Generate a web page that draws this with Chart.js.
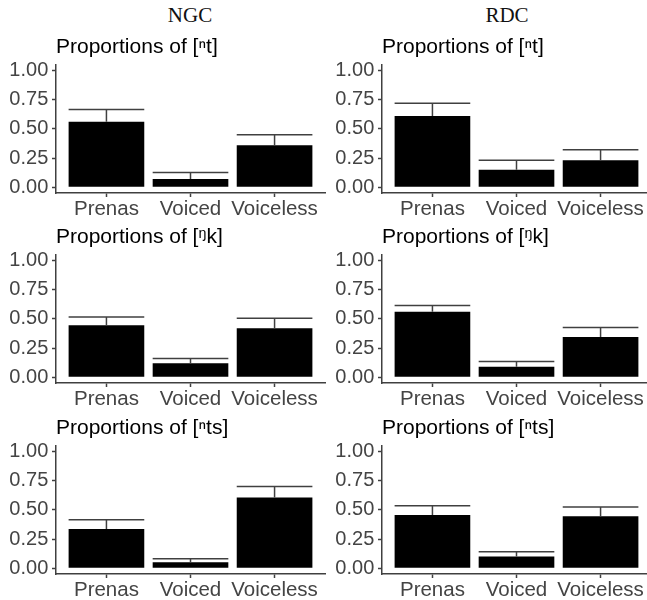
<!DOCTYPE html>
<html>
<head>
<meta charset="utf-8">
<script src="https://cdn.jsdelivr.net/npm/chart.js@4.4.1/dist/chart.umd.min.js"></script>
<style>
  html, body { margin: 0; padding: 0; background: #fff; }
  body { width: 647px; height: 600px; position: relative; overflow: hidden; }
  .hdr {
    position: absolute; top: 5px; width: 120px; margin-left: -60px;
    text-align: center; font: 21px/21px "Liberation Serif", "Times New Roman", serif; color: #111;
  }
  canvas { position: absolute; }
</style>
</head>
<body>
<div class="hdr" style="left:190px">NGC</div>
<div class="hdr" style="left:507px">RDC</div>
<canvas id="p0" width="330" height="225" style="left:0px;top:0px"></canvas>
<canvas id="p1" width="330" height="225" style="left:326px;top:0px"></canvas>
<canvas id="p2" width="330" height="225" style="left:0px;top:190px"></canvas>
<canvas id="p3" width="330" height="225" style="left:326px;top:190px"></canvas>
<canvas id="p4" width="330" height="225" style="left:0px;top:381px"></canvas>
<canvas id="p5" width="330" height="225" style="left:326px;top:381px"></canvas>
<script>
// Categories and axis ticks
const categories = ['Prenas', 'Voiced', 'Voiceless'];
const yTicks = [0, 0.25, 0.5, 0.75, 1];

// Mean proportions and upper error limits, per dialect group and segment
const ngcNt = [0.56, 0.07, 0.36];
const ngcNtUpper = [0.665, 0.125, 0.45];
const rdcNt = [0.61, 0.15, 0.23];
const rdcNtUpper = [0.72, 0.23, 0.32];

const ngcNk = [0.445, 0.12, 0.42];
const ngcNkUpper = [0.515, 0.16, 0.505];
const rdcNk = [0.56, 0.09, 0.345];
const rdcNkUpper = [0.615, 0.135, 0.425];

const ngcNts = [0.335, 0.05, 0.605];
const ngcNtsUpper = [0.415, 0.08, 0.70];
const rdcNts = [0.455, 0.10, 0.445];
const rdcNtsUpper = [0.535, 0.14, 0.525];

const panelTitles = [
  'Proportions of [ⁿt]', 'Proportions of [ⁿt]',
  'Proportions of [ᵑk]', 'Proportions of [ᵑk]',
  'Proportions of [ⁿts]', 'Proportions of [ⁿts]'
];
const panelValues = [ngcNt, rdcNt, ngcNk, rdcNk, ngcNts, rdcNts];
const panelUpper = [ngcNtUpper, rdcNtUpper, ngcNkUpper, rdcNkUpper, ngcNtsUpper, rdcNtsUpper];

const SANS = '"Liberation Sans", Arial, "DejaVu Sans", sans-serif';
const AXIS = '#404040';

// Upper error bars: cap across the bar plus a stem down to the bar top
const upperBars = {
  id: 'upperBars',
  afterDatasetsDraw(chart) {
    const ds = chart.data.datasets[0];
    const meta = chart.getDatasetMeta(0);
    const ys = chart.scales.y;
    const ctx = chart.ctx;
    ctx.save();
    ctx.strokeStyle = AXIS;
    ctx.lineWidth = 1.5;
    meta.data.forEach((bar, i) => {
      const top = ys.getPixelForValue(ds.upper[i]);
      const half = bar.width / 2;
      ctx.beginPath();
      ctx.moveTo(bar.x - half, top);
      ctx.lineTo(bar.x + half, top);
      ctx.moveTo(bar.x, top);
      ctx.lineTo(bar.x, bar.y);
      ctx.stroke();
    });
    ctx.restore();
  }
};

// Panel title, left-aligned with the plot area
const panelTitle = {
  id: 'panelTitle',
  afterDraw(chart, args, opts) {
    const ctx = chart.ctx;
    ctx.save();
    ctx.font = '21px ' + SANS;
    ctx.fillStyle = '#000';
    ctx.textAlign = 'left';
    ctx.textBaseline = 'alphabetic';
    ctx.fillText(opts.text, chart.chartArea.left, chart.chartArea.top - 11.7);
    ctx.restore();
  }
};

panelTitles.forEach((title, p) => {
  const values = panelValues[p];
  new Chart(document.getElementById('p' + p), {
    type: 'bar',
    data: {
      datasets: [{
        data: values.map((v, i) => ({ x: i + 1, y: v })),
        upper: panelUpper[p],
        backgroundColor: '#000',
        borderWidth: 0,
        categoryPercentage: 1,
        barPercentage: 0.9
      }]
    },
    options: {
      responsive: false,
      animation: false,
      events: [],
      layout: { padding: { top: 64.7, right: 5, bottom: 0, left: 0 } },
      plugins: {
        legend: { display: false },
        tooltip: { enabled: false },
        title: { display: false },
        panelTitle: { text: title }
      },
      scales: {
        x: {
          type: 'linear',
          offset: false,
          min: 0.4,
          max: 3.6,
          afterBuildTicks: s => { s.ticks = categories.map((c, i) => ({ value: i + 1 })); },
          afterFit: s => { s.height = 32; },
          ticks: {
            callback: v => categories[Math.round(v) - 1],
            color: '#444',
            font: { family: SANS, size: 20.5 },
            padding: 0,
            maxRotation: 0,
            autoSkip: false
          },
          grid: { offset: false, drawOnChartArea: false, drawTicks: true, tickLength: 4, tickColor: AXIS, tickWidth: 1.5 },
          border: { display: true, color: AXIS, width: 1.5 }
        },
        y: {
          min: -0.05,
          max: 1.05,
          afterBuildTicks: s => { s.ticks = yTicks.map(v => ({ value: v })); },
          afterFit: s => { s.width = 56; },
          ticks: {
            callback: v => Number(v).toFixed(2),
            color: '#444',
            font: { family: SANS, size: 20 },
            padding: 3.7
          },
          grid: { drawOnChartArea: false, drawTicks: true, tickLength: 4, tickColor: AXIS, tickWidth: 1.5 },
          border: { display: true, color: AXIS, width: 1.5 }
        }
      }
    },
    plugins: [upperBars, panelTitle]
  });
});
</script>
</body>
</html>
